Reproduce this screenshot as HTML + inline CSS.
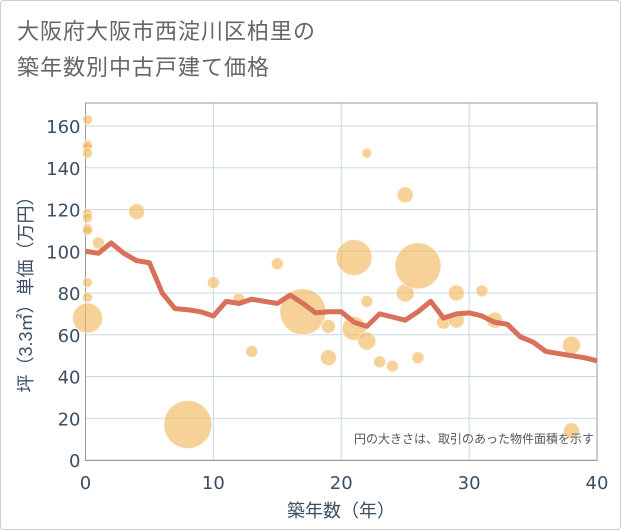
<!DOCTYPE html>
<html><head><meta charset="utf-8"><style>
body{margin:0;background:#fff;font-family:"Liberation Sans","Noto Sans CJK JP",sans-serif;}
#card{position:absolute;left:0;top:0;width:619px;height:528px;border:1px solid #ccc;border-radius:4px;}
#title{position:absolute;left:17px;top:14px;font-size:22px;line-height:36px;color:#666;letter-spacing:1px;}
</style></head><body>
<div id="card"></div>
<div id="title">大阪府大阪市西淀川区柏里の<br>築年数別中古戸建て価格</div>
<svg id="chart" width="621" height="530" style="position:absolute;left:0;top:0"></svg>
<script>
const lineX=[0,1,2,3,4,5,6,7,8,9,10,11,12,13,14,15,16,17,18,19,20,21,22,23,24,25,26,27,28,29,30,31,32,33,34,35,36,37,38,39,40];
const lineY=[100,99,104,99,95.5,94.5,80,72.5,72,71,69,76,75,77,76,75,79,75,70.5,71,71,66,64,70,68.5,67,71,76,68,70,70.5,69,66,65,59,56.5,52,51,50,49,47.5];
const bubX=[0,0,0,0,0,0,0,0,0,0,0,1,4,8,10,12,13,15,17,19,19,21,21,22,22,22,23,24,25,25,26,26,28,29,29,31,32,38,38];
const bubY=[163,151,150,147,118,116,111,110,85,78,68,104,119,17,85,77,52,94,71,64,49,97,63,147,76,57,47,45,127,80,93,49,66,80,67,81,67,55,14];
const bubR=[5,5,5,5,5,5,5,5,5,5,15,6,8,24,6,6,6,6,23,7,8,18,12,5,6,9,6,6,8,9,23,6,7,8,8,6,8,9,8];
const xTicks=[0,10,20,30,40];
const yTicks=[0,20,40,60,80,100,120,140,160];
const L=85.5,R=597,T=103,B=460.5;
const sx=v=>L+(R-L)*v/40;
const sy=v=>460-v*(334/160);
const svg=document.getElementById('chart');
const NS='http://www.w3.org/2000/svg';
const TF='"DejaVu Sans",sans-serif';
function mk(t,a){const e=document.createElementNS(NS,t);for(const k in a)e.setAttribute(k,a[k]);svg.appendChild(e);return e;}
for(const t of yTicks){const y=sy(t);
const g=mk('line',{x1:L,x2:R,y1:y,y2:y,stroke:'#c8d8e6','stroke-width':1});


const tx=mk('text',{x:L-5,y:y+7,'text-anchor':'end','font-size':18,fill:'#3d4f63','font-family':TF});tx.textContent=t;

}
for(const t of xTicks){const x=sx(t);
const g=mk('line',{x1:x,x2:x,y1:T,y2:B,stroke:'#c8d8e6','stroke-width':1});


const tx=mk('text',{x:x,y:489,'text-anchor':'middle','font-size':18,fill:'#3d4f63','font-family':TF});tx.textContent=t;

}
const fr=mk('rect',{x:L,y:T,width:R-L,height:B-T,fill:'none',stroke:'#999','stroke-width':1});


for(let i=0;i<bubX.length;i++){
const c=mk('circle',{cx:sx(bubX[i])+(bubX[i]===0?2:0),cy:sy(bubY[i]),r:bubR[i],fill:'rgba(241,186,98,0.65)',stroke:'rgba(255,255,255,0.6)','stroke-width':1});

}
const p=mk('polyline',{points:lineX.map((x,i)=>sx(x)+','+sy(lineY[i])).join(' '),fill:'none',stroke:'#d9705a','stroke-width':5,'stroke-linejoin':'round'});


const note=mk('text',{x:594,y:443,'text-anchor':'end','font-size':12,fill:'#555'});note.textContent='円の大きさは、取引のあった物件面積を示す';


const xt=mk('text',{x:341,y:517,'text-anchor':'middle','font-size':18,fill:'#3d4f63'});xt.textContent='築年数（年）';


const yt=mk('text',{x:0,y:0,'text-anchor':'middle','font-size':18,fill:'#3d4f63',transform:'translate(32,290) rotate(-90)'});yt.textContent='坪（3.3㎡）単価（万円）';


</script>
</body></html>
